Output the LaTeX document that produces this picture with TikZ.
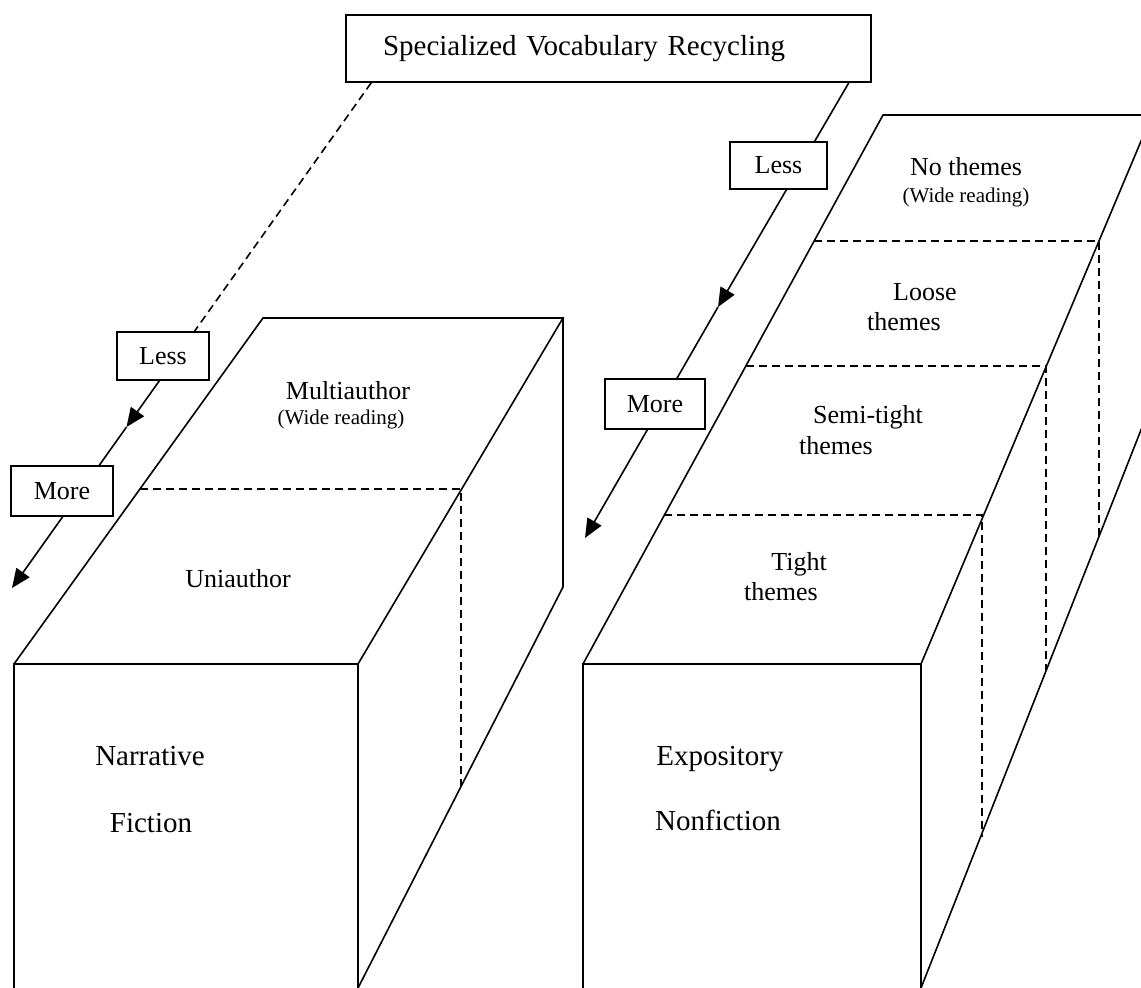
\documentclass[tikz,border=0pt]{standalone}
\usepackage{fontspec}
\setmainfont{Liberation Serif}
\usetikzlibrary{arrows.meta}
\tikzset{
  edge/.style={line width=1.6pt, line join=miter},
  dash8/.style={line width=1.6pt, dash pattern=on 8pt off 5pt},
  lbl/.style={inner sep=0pt, anchor=base, font=\fontsize{26}{30}\selectfont},
  biglbl/.style={inner sep=0pt, anchor=base, font=\fontsize{29}{34}\selectfont},
  smalllbl/.style={inner sep=0pt, anchor=base, font=\fontsize{21}{25}\selectfont},
  tagbox/.style={draw, fill=white, line width=1.6pt, inner sep=0pt, font=\fontsize{26}{30}\selectfont},
  titlebox/.style={draw, fill=white, line width=1.6pt, inner ysep=0pt, inner xsep=37pt, text width=451pt, align=left, minimum height=67pt, font=\fontsize{29}{34}\selectfont},
  arr/.style={line width=1.6pt, -{Triangle[length=19pt,width=16pt]}},
}
\begin{document}
\begin{tikzpicture}[x=1pt,y=-1pt]
\useasboundingbox (0,0) rectangle (1141,988);
\clip (0,0) rectangle (1141,988);

% ---------- left prism ----------
\draw[edge] (14,1000) -- (14,664) -- (358,664) -- (358,1000);
\draw[edge] (14,664) -- (263,318) -- (563,318) -- (358,664);
\draw[edge] (563,318) -- (563,587) -- (358,988);
\draw[dash8] (140,489) -- (461,489) -- (461,786);

% ---------- right prism ----------
\draw[edge] (583,1000) -- (583,664) -- (921,664) -- (921,1000);
\draw[edge] (583,664) -- (883,115) -- (1160,115);
\draw[edge] (921,664) -- (1152,115);
\draw[edge] (921,988) -- (1152,402);
\draw[dash8] (814,241) -- (1099,241) -- (1099,536);
\draw[dash8] (746,366) -- (1046,366) -- (1046,670);
\draw[dash8] (664,515) -- (982,515) -- (982,837);

% ---------- title ----------
\node[titlebox] (title) at (608.5,48.5) {Specialized Vocabulary Recycling};

% ---------- connectors ----------
\coordinate (lsrc) at ([xshift=26pt]title.south west);
\coordinate (lbreak) at (194,332);
\coordinate (lmid) at (126.5,427);
\coordinate (ltip) at (12,588);
\draw[dash8] (lsrc) -- (lbreak);
\draw[arr] (lbreak) -- (lmid);
\draw[arr] (lmid) -- (ltip);

\coordinate (rsrc) at ([xshift=-23pt]title.south east);
\coordinate (rmid) at (718,307);
\coordinate (rtip) at (585,538);
\draw[arr] (rsrc) -- (rmid);
\draw[arr] (rmid) -- (rtip);

% ---------- tag boxes ----------
\node[tagbox, minimum width=92pt, minimum height=48pt] (lessL) at (163,356) {Less};
\node[tagbox, minimum width=102pt, minimum height=50pt] (moreL) at (62,491) {More};
\node[tagbox, minimum width=97pt, minimum height=47pt] (lessR) at (778.5,165.5) {Less};
\node[tagbox, minimum width=100pt, minimum height=50pt] (moreR) at (655,404) {More};

% ---------- labels left prism ----------
\node[lbl] (multi) at (348,399) {Multiauthor};
\node[smalllbl] (wideL) at (341,424) {(Wide reading)};
\node[lbl] (uni) at (238,587) {Uniauthor};
\node[biglbl] (narr) at (150,765) {Narrative};
\node[biglbl] (fict) at (151,832) {Fiction};

% ---------- labels right prism ----------
\node[lbl] (nothemes) at (966,175) {No themes};
\node[smalllbl] (wideR) at (966,202) {(Wide reading)};
\node[lbl] (loose) at (925,300) {Loose};
\node[lbl] (looseth) at (904,330) {themes};
\node[lbl] (semi) at (868,423) {Semi-tight};
\node[lbl] (semith) at (836,454) {themes};
\node[lbl] (tight) at (799,570) {Tight};
\node[lbl] (tightth) at (781,600) {themes};
\node[biglbl] (expo) at (720,765) {Expository};
\node[biglbl] (nonf) at (718,830) {Nonfiction};
\end{tikzpicture}
\end{document}
